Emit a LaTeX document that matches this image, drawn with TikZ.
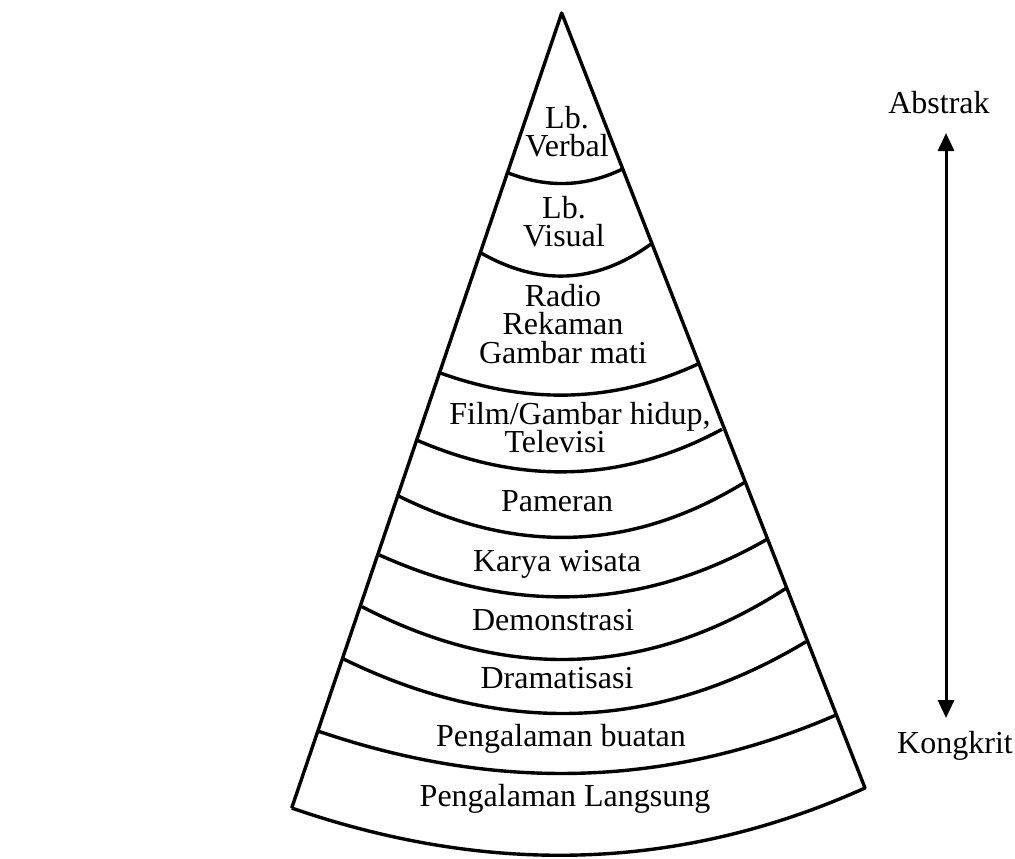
\documentclass[tikz,border=0pt]{standalone}
\usepackage{fontspec}
\setmainfont{Liberation Serif}
\usetikzlibrary{arrows.meta}
\tikzset{
  lbl/.style={anchor=base,inner sep=0pt,align=center,
              font=\fontsize{16}{14.25}\selectfont},
  band/.style={line width=1.7pt,line join=round}
}
\begin{document}
\begin{tikzpicture}[x=0.5pt,y=-0.5pt]
  \useasboundingbox (0,0) rectangle (1015,858);
  % cone outline
  \draw[band] (291.7,808) -- (561.7,13) -- (865,788)
    .. controls (673.9,874) and (482.8,874) .. (291.7,808);
  % bands
  \draw[band] (507.5,172.7) .. controls (545.8,187.7) and (584.2,187.7) .. (622.5,169);
  \draw[band] (480.5,252.7) .. controls (537.3,285.2) and (594.2,285.2) .. (651,244);
  \draw[band] (439.5,372.7) .. controls (525.7,403.9) and (611.8,403.9) .. (698,364);
  \draw[band] (416.5,440) .. controls (518.3,484.1) and (620.2,484.1) .. (722,429.3);
  \draw[band] (398,495.7) .. controls (513.3,553.3) and (628.7,553.3) .. (744,482.7);
  \draw[band] (379.5,555) .. controls (508.7,613.2) and (637.8,613.2) .. (767,539.3);
  \draw[band] (362,606.7) .. controls (503.3,679.9) and (644.7,679.9) .. (786,588.3);
  \draw[band] (343.5,659) .. controls (497.7,734.3) and (651.8,734.3) .. (806,641.7);
  \draw[band] (317,730.7) .. controls (490,790.1) and (663,790.1) .. (836,715);
  % labels (base = last line)
  \node[lbl] (verbal) at (567,156.7) {Lb.\\Verbal};
  \node[lbl] (visual) at (564,246.7) {Lb.\\Visual};
  \node[lbl] (radio) at (563,363) {Radio\\Rekaman\\Gambar mati};
  \node[lbl] (film) at (580,424) {Film/Gambar hidup,};
  \node[lbl] (tv) at (555,452) {Televisi};
  \node[lbl] (pameran) at (557,511.7) {Pameran};
  \node[lbl] (karya) at (557,571.7) {Karya wisata};
  \node[lbl] (demo) at (553,630) {Demonstrasi};
  \node[lbl] (drama) at (557,688.3) {Dramatisasi};
  \node[lbl] (buatan) at (561,746.7) {Pengalaman buatan};
  \node[lbl] (langsung) at (565,806.7) {Pengalaman Langsung};
  % scale arrow
  \node[lbl] (abstrak) at (939,113) {Abstrak};
  \node[lbl] (kongkrit) at (955,753) {Kongkrit};
  \coordinate (hi) at (946,133);
  \coordinate (lo) at (946,718);
  \draw[line width=1.5pt,{Triangle[length=9pt,width=8pt]}-{Triangle[length=9pt,width=8pt]}] (hi) -- (lo);
\end{tikzpicture}
\end{document}
